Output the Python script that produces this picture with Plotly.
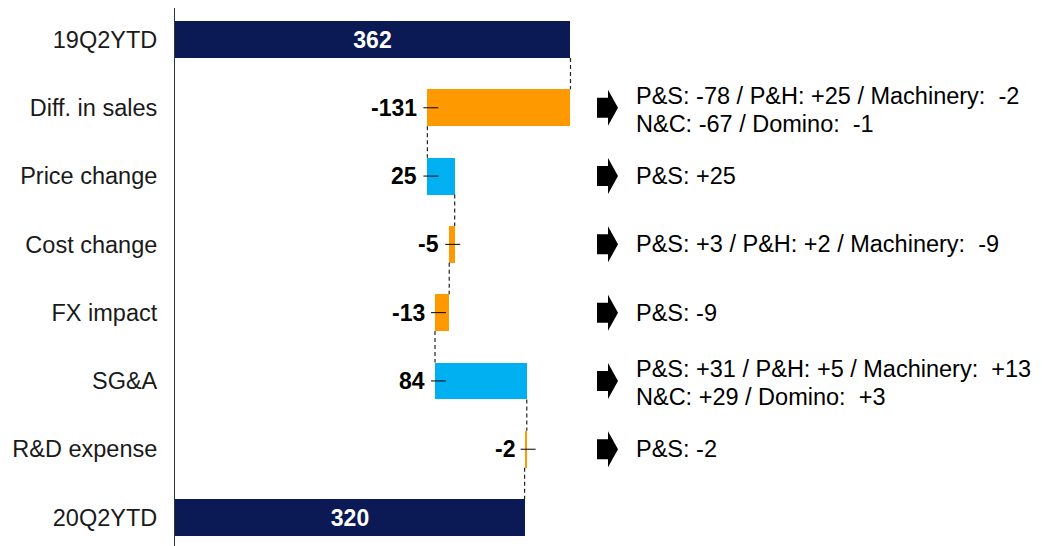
import plotly.graph_objects as go

# Bridge steps, top to bottom
categories = ["19Q2YTD", "Diff. in sales", "Price change", "Cost change",
              "FX impact", "SG&A", "R&D expense", "20Q2YTD"]
values = [362, -131, 25, -5, -13, 84, -2, 320]
kinds = ["total", "delta", "delta", "delta", "delta", "delta", "delta", "total"]
notes = ["",
         "P&S: -78 / P&H: +25 / Machinery:  -2<br>N&C: -67 / Domino:  -1",
         "P&S: +25",
         "P&S: +3 / P&H: +2 / Machinery:  -9",
         "P&S: -9",
         "P&S: +31 / P&H: +5 / Machinery:  +13<br>N&C: +29 / Domino:  +3",
         "P&S: -2",
         ""]

NAVY = "#0b1a55"
ORANGE = "#ff9900"
BLUE = "#00b0f0"
FONT = "Liberation Sans, Arial, sans-serif"

# the page body adds an 8px margin, so the figure is sized to fit the window
W, H = 1034, 538
L_MARGIN = 167
PX_PER_UNIT = 1.0925                        # 362 -> ~395 px
X_MAX = (W - L_MARGIN) / PX_PER_UNIT
BAR_W = 0.54


def px_to_x(p):
    # p is a figure pixel
    return (p - L_MARGIN) / PX_PER_UNIT


ypos = list(range(len(categories)))
bases, lengths, colors, levels = [], [], [], []
running = 0
for v, k in zip(values, kinds):
    if k == "total":
        bases.append(0)
        lengths.append(v)
        colors.append(NAVY)
        running = v
    else:
        end = running + v
        bases.append(min(running, end))
        lengths.append(abs(v))
        colors.append(ORANGE if v < 0 else BLUE)
        running = end
    levels.append(running)

bar_text = ["<b>%d</b>" % v if k == "total" else "" for v, k in zip(values, kinds)]

fig = go.Figure()
fig.add_trace(go.Bar(
    y=ypos, x=lengths, base=bases, orientation="h", width=BAR_W,
    marker=dict(color=colors, line=dict(width=0)),
    text=bar_text, textposition="inside", insidetextanchor="middle",
    textfont=dict(color="white", size=23, family=FONT),
    hoverinfo="skip", showlegend=False,
))

shapes = []
annotations = []

# dashed connectors between consecutive bars
for i in range(len(categories) - 1):
    shapes.append(dict(type="line", xref="x", yref="y",
                       x0=levels[i], x1=levels[i], y0=i + BAR_W / 2, y1=i + 1 - BAR_W / 2,
                       line=dict(color="#222222", width=1.2, dash="4px,3px")))

# value labels for the deltas, with a short leader tick
for i, (v, k) in enumerate(zip(values, kinds)):
    if k != "delta":
        continue
    left = bases[i]
    shapes.append(dict(type="line", xref="x", yref="y", xsizemode="pixel", xanchor=left,
                       x0=-4, x1=11, y0=i, y1=i,
                       line=dict(color="black", width=1)))
    annotations.append(dict(x=left, y=i, xref="x", yref="y", xanchor="right", yanchor="middle",
                            xshift=-8, showarrow=False, text="<b>%d</b>" % v,
                            font=dict(size=23, color="black", family=FONT)))

# arrows and breakdown notes on the right
arrow_path = "M0,-10 L11,-10 L11,-18 L21,0 L11,18 L11,10 L0,10 Z"
for i, note in enumerate(notes):
    if not note:
        continue
    shapes.append(dict(type="path", xref="x", yref="y", xsizemode="pixel", ysizemode="pixel",
                       xanchor=px_to_x(589), yanchor=i, path=arrow_path,
                       fillcolor="black", line=dict(width=0)))
    lines = note.split("<br>")
    offsets = [0] if len(lines) == 1 else [12, -16]
    for line, dy in zip(lines, offsets):
        annotations.append(dict(x=px_to_x(626), y=i, xref="x", yref="y", xanchor="left",
                                yanchor="middle", yshift=dy, showarrow=False, text=line,
                                font=dict(size=23.5, color="black", family=FONT)))

fig.update_layout(
    width=W, height=H,
    margin=dict(l=L_MARGIN, r=0, t=0, b=0),
    plot_bgcolor="white", paper_bgcolor="white",
    font=dict(family=FONT, size=22, color="black"),
    shapes=shapes, annotations=annotations,
    bargap=0,
)
fig.update_xaxes(range=[0, X_MAX], visible=False, showgrid=False, zeroline=False)
fig.update_yaxes(range=[7.417, -0.461], tickvals=ypos, ticktext=categories,
                 showgrid=False, zeroline=False, ticks="", ticklabelstandoff=12,
                 showline=True, linecolor="#333333", linewidth=1,
                 tickfont=dict(size=23.5, color="#1a1a1a", family=FONT))

fig.write_html("out.html")
